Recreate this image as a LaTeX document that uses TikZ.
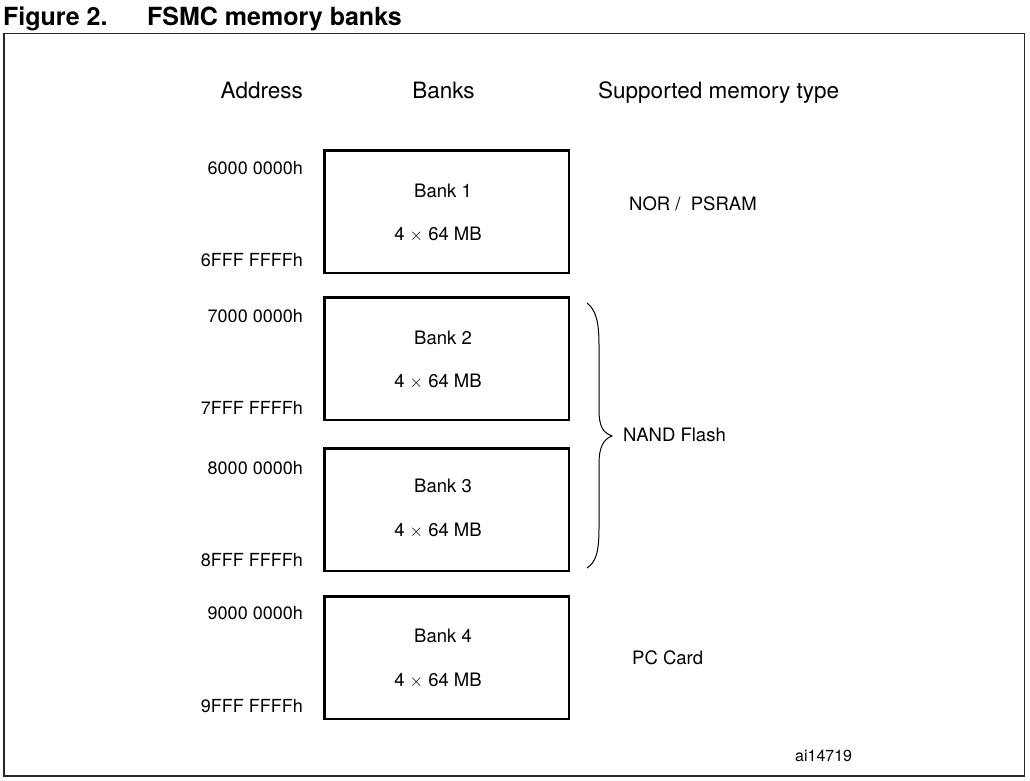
\documentclass[tikz,border=0pt]{standalone}
\usepackage{fontspec}
\setmainfont{TeX Gyre Heros}
\begin{document}
\begin{tikzpicture}[x=1pt, y=-1pt,
		bankbox/.style={draw, line width=2.5pt, minimum width=244.5pt, minimum height=122.5pt, inner sep=0pt},
		addr/.style={anchor=base east, inner sep=0pt, font=\fontsize{18}{20}\selectfont},
		bankname/.style={anchor=base, inner sep=0pt, font=\fontsize{18.5}{20}\selectfont},
		memtype/.style={anchor=base west, inner sep=0pt, font=\fontsize{18.5}{20}\selectfont},
		head/.style={inner sep=0pt, font=\fontsize{22.5}{26}\selectfont}]

			\useasboundingbox (0,0) rectangle (1030,781);

			% Title and frame
			\node[anchor=base west, inner sep=0pt, font=\fontsize{25}{28}\bfseries] (figno) at (3,26) {Figure 2.};
			\node[anchor=base west, inner sep=0pt, font=\fontsize{25}{28}\bfseries] (title) at (147,26) {FSMC memory banks};
			\draw[line width=1.5pt, black!85] (3.75,33.75) rectangle (1024.5,776);

			% Column heads
			\node[head, anchor=base east] (hAddr) at (303,99) {Address};
			\node[head, anchor=base] (hBanks) at (443.5,99) {Banks};
			\node[head, anchor=base west] (hType) at (598,99) {Supported memory type};

			% Bank 1
			\node[bankbox] (bank1) at (446.5,211.5) {};
			\node[bankname] (b1name) at (443,197) {Bank 1};
			\node[bankname] (b1size) at (438,240.5) {4 $\times$ 64 MB};
			\node[addr] (a1lo) at (303,174) {6000 0000h};
			\node[addr] (a1hi) at (303,266) {6FFF FFFFh};

			% Bank 2
			\node[bankbox] (bank2) at (446.5,358.5) {};
			\node[bankname] (b2name) at (443,344) {Bank 2};
			\node[bankname] (b2size) at (438,387.5) {4 $\times$ 64 MB};
			\node[addr] (a2lo) at (303,322) {7000 0000h};
			\node[addr] (a2hi) at (303,414) {7FFF FFFFh};

			% Bank 3
			\node[bankbox] (bank3) at (446.5,509.5) {};
			\node[bankname] (b3name) at (443,492) {Bank 3};
			\node[bankname] (b3size) at (438,536.5) {4 $\times$ 64 MB};
			\node[addr] (a3lo) at (303,474) {8000 0000h};
			\node[addr] (a3hi) at (303,566) {8FFF FFFFh};

			% Bank 4
			\node[bankbox] (bank4) at (446.5,657.5) {};
			\node[bankname] (b4name) at (443,642) {Bank 4};
			\node[bankname] (b4size) at (438,686) {4 $\times$ 64 MB};
			\node[addr] (a4lo) at (303,619) {9000 0000h};
			\node[addr] (a4hi) at (303,712) {9FFF FFFFh};

			% Memory types
			\node[memtype] (nor) at (629,210) {NOR /\ \ PSRAM};
			\node[memtype] (nand) at (623,441) {NAND Flash};
			\node[memtype] (pccard) at (632,664) {PC Card};

			% Brace round banks 2 and 3
			\draw[line width=1pt] (587,303) .. controls (596,310) and (599,322) .. (599,345)
				-- (599,410) .. controls (599,428) and (604,433) .. (612,436)
				.. controls (604,439) and (599,446) .. (599,464)
				-- (599,528) .. controls (599,552) and (596,562) .. (587,568);

			\node[anchor=base west, inner sep=0pt, font=\fontsize{16}{18}\selectfont] (ref) at (795,761) {ai14719};

		\end{tikzpicture}
\end{document}
